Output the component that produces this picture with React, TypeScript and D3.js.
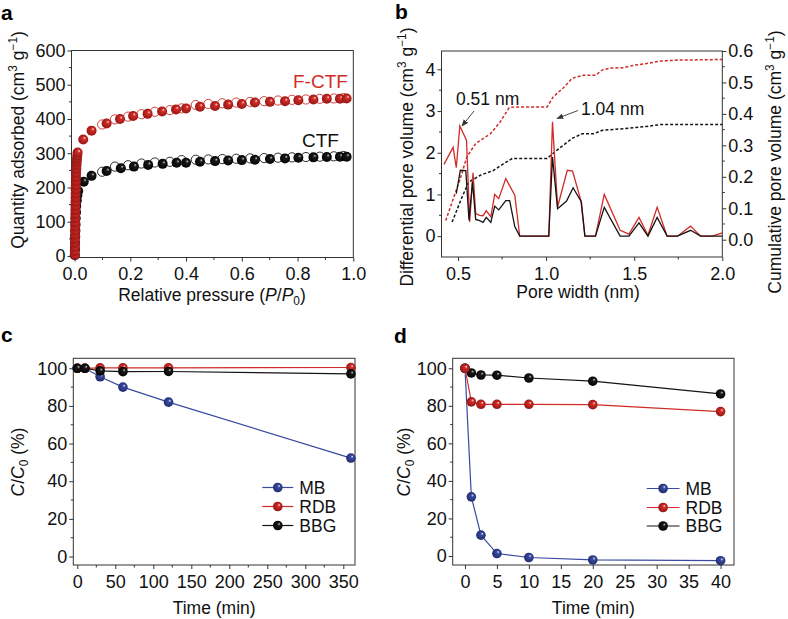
import React, { useEffect, useRef } from 'react';
import * as d3 from 'd3';

const FONT = '"Liberation Sans", Arial, Helvetica, sans-serif';
const FS = 17.5;
const TFS = 18;
const RED = '#d12b27';
const BLUE = '#3a4aa0';
const BLACK = '#141414';
const AXIS = '#333333';

// ---------- Panel a : N2 isotherms ----------
const fctfLowP = [0.0008, 0.001, 0.0012, 0.0014, 0.0016, 0.0018, 0.002, 0.0022, 0.0024, 0.0026, 0.0028, 0.003, 0.0032, 0.0034, 0.0036, 0.0039, 0.0042, 0.0045, 0.0049, 0.0053, 0.0058, 0.0064, 0.007, 0.0078, 0.0087, 0.0098, 0.011];
const fctfLowQ = [2, 14, 26, 38, 50, 62, 74, 86, 98, 110, 122, 134, 146, 158, 170, 182, 194, 206, 218, 230, 242, 254, 265, 275, 284, 293, 302];
const fctfAdsP = [0.031, 0.061, 0.115, 0.163, 0.21, 0.262, 0.314, 0.364, 0.4, 0.45, 0.504, 0.551, 0.6, 0.647, 0.701, 0.755, 0.803, 0.857, 0.905, 0.952, 0.976];
const fctfAdsQ = [340, 366, 387, 400, 409, 415, 422, 428, 431, 436, 438, 442, 444, 448, 450, 452, 455, 457, 459, 459, 460];
const fctfDesP = [0.099, 0.145, 0.192, 0.24, 0.288, 0.342, 0.384, 0.435, 0.48, 0.53, 0.58, 0.63, 0.68, 0.73, 0.78, 0.83, 0.88, 0.93, 0.965];
const fctfDesQ = [384, 399, 407, 414, 421, 426, 431, 441, 444, 446, 448, 450, 452, 454, 456, 457, 459, 460, 461];
const ctfLowP = [0.001, 0.0015, 0.002, 0.0025, 0.003, 0.0035, 0.004, 0.005, 0.006, 0.008, 0.01, 0.013];
const ctfLowQ = [3, 20, 38, 56, 74, 92, 110, 128, 146, 162, 177, 190];
const ctfAdsP = [0.033, 0.061, 0.115, 0.166, 0.213, 0.264, 0.316, 0.366, 0.4, 0.45, 0.504, 0.551, 0.6, 0.647, 0.701, 0.755, 0.803, 0.857, 0.905, 0.952, 0.976];
const ctfAdsQ = [217, 234, 248, 256, 261, 266, 269, 272, 272, 275, 277, 279, 280, 281, 283, 285, 287, 288, 289, 290, 290];
const ctfDesP = [0.099, 0.145, 0.192, 0.24, 0.288, 0.342, 0.384, 0.435, 0.48, 0.53, 0.58, 0.63, 0.68, 0.73, 0.78, 0.83, 0.88, 0.93, 0.965];
const ctfDesQ = [246, 261, 265, 270, 273, 275, 280, 281, 282, 283, 284, 285, 286, 287, 288, 289, 290, 291, 292];
const aXTicks = [0, 0.2, 0.4, 0.6, 0.8, 1.0];
const aYTicks = [0, 100, 200, 300, 400, 500, 600];

// ---------- Panel b : pore size distribution ----------
const fDiffX = [0.42, 0.472, 0.49, 0.51, 0.548, 0.566, 0.585, 0.6, 0.623, 0.642, 0.66, 0.686, 0.708, 0.731, 0.771, 0.822, 0.85, 1.015, 1.036, 1.065, 1.12, 1.15, 1.197, 1.22, 1.28, 1.33, 1.42, 1.47, 1.527, 1.578, 1.63, 1.687, 1.745, 1.82, 1.877, 1.943, 2.0];
const fDiffY = [1.72, 2.13, 1.64, 2.64, 2.3, 0.34, 1.52, 0.54, 0.5, 0.49, 0.61, 0.46, 1.0, 0.9, 1.38, 0.98, 0, 0, 2.74, 0.7, 1.58, 1.56, 0.86, 0, 0, 1.0, 0.14, 0.05, 0.45, 0.02, 0.69, 0, 0, 0.24, 0, 0, 0.08];
const cDiffX = [0.49, 0.513, 0.544, 0.562, 0.582, 0.6, 0.623, 0.642, 0.66, 0.686, 0.708, 0.731, 0.771, 0.793, 0.822, 0.85, 1.015, 1.036, 1.065, 1.116, 1.153, 1.2, 1.22, 1.28, 1.33, 1.42, 1.47, 1.527, 1.578, 1.63, 1.687, 1.745, 1.82, 1.877, 1.943, 2.0];
const cDiffY = [1.02, 1.58, 1.57, 0.38, 1.3, 0.4, 0.37, 0.33, 0.45, 0.33, 0.72, 0.63, 0.85, 0.85, 0.23, 0, 0, 1.9, 0.66, 0.84, 1.16, 0.82, 0, 0, 0.69, 0, 0, 0.32, 0, 0.45, 0, 0, 0.14, 0, 0, 0];
const fCumX = [0.43, 0.51, 0.55, 0.6, 0.684, 0.74, 0.79, 0.82, 1.005, 1.04, 1.1, 1.147, 1.21, 1.28, 1.32, 1.37, 1.44, 1.5, 1.57, 1.65, 1.745, 2.0];
const fCumY = [0.061, 0.19, 0.263, 0.306, 0.337, 0.375, 0.42, 0.422, 0.422, 0.454, 0.484, 0.513, 0.523, 0.523, 0.54, 0.546, 0.547, 0.555, 0.56, 0.568, 0.571, 0.573];
const cCumX = [0.466, 0.523, 0.56, 0.627, 0.7, 0.76, 0.807, 1.005, 1.06, 1.147, 1.205, 1.27, 1.32, 1.44, 1.57, 1.65, 2.0];
const cCumY = [0.056, 0.136, 0.183, 0.205, 0.22, 0.242, 0.258, 0.258, 0.284, 0.322, 0.337, 0.337, 0.348, 0.353, 0.36, 0.366, 0.366];
const bXTicks = [0.5, 1.0, 1.5, 2.0];
const bYLeftTicks = [0, 1, 2, 3, 4];
const bYRightTicks = [0, 0.1, 0.2, 0.3, 0.4, 0.5, 0.6];

// ---------- Panel c ----------
const cTime = [0, 10, 30, 60, 120, 360];
const cMB = [100, 100, 95.5, 90, 82, 52.3];
const cRDB = [100, 100, 100.2, 100.2, 100.2, 100.4];
const cBBG = [100, 100, 98.6, 98.2, 98.3, 97];
const cXTicks = [0, 50, 100, 150, 200, 250, 300, 350];

// ---------- Panel d ----------
const dTime = [0, 1, 2.5, 5, 10, 20, 40];
const dMB = [100, 31.5, 11.1, 1.3, -0.8, -2.1, -2.5];
const dRDB = [100, 82.1, 80.8, 80.8, 80.8, 80.6, 76.9];
const dBBG = [100, 97.5, 96.4, 96.3, 94.8, 93.1, 86.3];
const dXTicks = [0, 5, 10, 15, 20, 25, 30, 35, 40];
const cdYTicks = [0, 20, 40, 60, 80, 100];

type Part = [string, string?];
type Sel = d3.Selection<any, any, any, any>;

function richText(parent: Sel, parts: Part[], fs: number) {
  const t = parent.append('text').attr('font-family', FONT).attr('font-size', fs).attr('fill', '#111');
  let off = 0;
  for (const [s, k] of parts) {
    const target = k === 'sup' ? -0.4 * fs : k === 'sub' ? 0.25 * fs : 0;
    const ts = t.append('tspan').text(s).attr('dy', target - off);
    if (k === 'sup' || k === 'sub') ts.attr('font-size', fs * 0.68);
    if (k === 'it') ts.attr('font-style', 'italic');
    off = target;
  }
  return t;
}

function drawAxis(g: Sel, scale: any, orient: string, pos: number, major: number[], minor: number[], fmt: (v: any) => string) {
  const gen = orient === 'left' ? d3.axisLeft(scale) : orient === 'right' ? d3.axisRight(scale) : d3.axisBottom(scale);
  gen.tickValues(major).tickSizeInner(4).tickSizeOuter(0).tickPadding(orient === 'bottom' ? 6 : 2).tickFormat(fmt as any);
  const tr = orient === 'bottom' ? `translate(0,${pos})` : `translate(${pos},0)`;
  const a = g.append('g').attr('transform', tr).call(gen as any);
  a.select('.domain').remove();
  a.selectAll('line').attr('stroke', AXIS).attr('stroke-width', 1);
  a.selectAll('text').attr('font-size', TFS).attr('font-family', FONT).attr('fill', '#111');
  const mg = g.append('g').attr('transform', tr);
  mg.selectAll('line').data(minor).join('line')
    .attr('x1', (v: number) => (orient === 'bottom' ? scale(v) : 0))
    .attr('x2', (v: number) => (orient === 'bottom' ? scale(v) : orient === 'left' ? -2.5 : 2.5))
    .attr('y1', (v: number) => (orient === 'bottom' ? 0 : scale(v)))
    .attr('y2', (v: number) => (orient === 'bottom' ? 2.5 : scale(v)))
    .attr('stroke', AXIS).attr('stroke-width', 1);
}

function frame(g: Sel, x: any, y: any) {
  const [x0, x1] = x.range();
  const [y0, y1] = y.range();
  g.append('rect').attr('x', x0).attr('y', y1).attr('width', x1 - x0).attr('height', y0 - y1)
    .attr('fill', 'none').attr('stroke', AXIS).attr('stroke-width', 1);
}

function addGradients(defs: Sel) {
  const specs: [string, string, string, string][] = [
    ['gRed', '#ffd9d6', RED, '#8e1512'],
    ['gBlue', '#dfe4ff', BLUE, '#1e2866'],
    ['gBlack', '#c8c8c8', '#1a1a1a', '#000000'],
  ];
  specs.forEach(([id, hi, mid, lo]) => {
    const rg = defs.append('radialGradient').attr('id', id).attr('cx', '50%').attr('cy', '50%').attr('r', '55%').attr('fx', '66%').attr('fy', '32%');
    rg.append('stop').attr('offset', '0%').attr('stop-color', hi);
    rg.append('stop').attr('offset', '28%').attr('stop-color', mid);
    rg.append('stop').attr('offset', '100%').attr('stop-color', lo);
  });
  const m = defs.append('marker').attr('id', 'arrow').attr('viewBox', '0 0 10 10').attr('refX', 9).attr('refY', 5)
    .attr('markerWidth', 7).attr('markerHeight', 7).attr('orient', 'auto-start-reverse').attr('markerUnits', 'userSpaceOnUse');
  m.append('path').attr('d', 'M0,1 L10,5 L0,9 Z').attr('fill', '#333');
}

function spheres(g: Sel, xs: number[], ys: number[], x: any, y: any, grad: string, r: number) {
  g.append('g').selectAll('circle').data(xs.map((v, i) => [v, ys[i]])).join('circle')
    .attr('cx', (d: number[]) => x(d[0])).attr('cy', (d: number[]) => y(d[1])).attr('r', r)
    .attr('fill', `url(#${grad})`);
}

function openCircles(g: Sel, xs: number[], ys: number[], x: any, y: any, color: string, r: number) {
  g.append('g').selectAll('circle').data(xs.map((v, i) => [v, ys[i]])).join('circle')
    .attr('cx', (d: number[]) => x(d[0])).attr('cy', (d: number[]) => y(d[1])).attr('r', r)
    .attr('fill', '#fff').attr('stroke', color).attr('stroke-width', 0.9);
}

function drawA(svg: Sel) {
  const g = svg.append('g');
  const x = d3.scaleLinear().domain([-0.011, 1.0]).range([71.5, 353.3]);
  const y = d3.scaleLinear().domain([-4.4, 600]).range([257.5, 50.5]);
  frame(g, x, y);
  openCircles(g, fctfDesP, fctfDesQ, x, y, RED, 4.6);
  openCircles(g, ctfDesP, ctfDesQ, x, y, BLACK, 4.6);
  spheres(g, ctfLowP, ctfLowQ, x, y, 'gBlack', 5);
  spheres(g, ctfAdsP, ctfAdsQ, x, y, 'gBlack', 5);
  spheres(g, fctfLowP, fctfLowQ, x, y, 'gRed', 5);
  spheres(g, fctfAdsP, fctfAdsQ, x, y, 'gRed', 5);
  drawAxis(g, x, 'bottom', 257.5, aXTicks, [0.1, 0.3, 0.5, 0.7, 0.9], d3.format('.1f'));
  drawAxis(g, y, 'left', 71.5, aYTicks, [50, 150, 250, 350, 450, 550], d3.format('d'));
  g.append('text').attr('x', 293).attr('y', 88).attr('font-family', FONT).attr('font-size', 19).attr('fill', RED).text('F-CTF');
  g.append('text').attr('x', 302).attr('y', 147).attr('font-family', FONT).attr('font-size', 19).attr('fill', '#111').text('CTF');
  const xt = richText(g, [['Relative pressure ('], ['P', 'it'], ['/'], ['P', 'it'], ['0', 'sub'], [')']], FS);
  xt.attr('x', 212).attr('y', 301).attr('text-anchor', 'middle');
  const yt = richText(g, [['Quantity adsorbed (cm'], ['3', 'sup'], [' g'], ['\u22121', 'sup'], [')']], FS);
  yt.attr('text-anchor', 'middle').attr('transform', 'translate(24,140) rotate(-90)');
  g.append('text').attr('x', 1).attr('y', 20).attr('font-family', FONT).attr('font-size', 21).attr('font-weight', 'bold').text('a');
}

function drawB(svg: Sel) {
  const g = svg.append('g');
  const x = d3.scaleLinear().domain([0.406, 2.0]).range([441.5, 722.3]);
  const yL = d3.scaleLinear().domain([-0.5, 4.44]).range([257, 51]);
  const yR = d3.scaleLinear().domain([-0.055, 0.6]).range([257, 51]);
  frame(g, x, yL);
  const lineL = (xs: number[]) => d3.line<number>().x((_, i) => x(xs[i])).y((v) => yL(v));
  const lineR = (xs: number[]) => d3.line<number>().x((_, i) => x(xs[i])).y((v) => yR(v));
  g.append('path').attr('d', lineR(fCumX)(fCumY)).attr('fill', 'none').attr('stroke', RED).attr('stroke-width', 1.5).attr('stroke-dasharray', '3,2');
  g.append('path').attr('d', lineR(cCumX)(cCumY)).attr('fill', 'none').attr('stroke', BLACK).attr('stroke-width', 1.5).attr('stroke-dasharray', '3,2');
  g.append('path').attr('d', lineL(fDiffX)(fDiffY)).attr('fill', 'none').attr('stroke', RED).attr('stroke-width', 1.3).attr('stroke-linejoin', 'miter');
  g.append('path').attr('d', lineL(cDiffX)(cDiffY)).attr('fill', 'none').attr('stroke', BLACK).attr('stroke-width', 1.3);
  drawAxis(g, x, 'bottom', 257, bXTicks, [0.75, 1.25, 1.75], d3.format('.1f'));
  drawAxis(g, yL, 'left', 441.5, bYLeftTicks, [0.5, 1.5, 2.5, 3.5], d3.format('d'));
  drawAxis(g, yR, 'right', 722.3, bYRightTicks, [0.05, 0.15, 0.25, 0.35, 0.45, 0.55], d3.format('.1f'));
  g.append('text').attr('x', 456).attr('y', 105).attr('font-family', FONT).attr('font-size', FS).attr('fill', '#111').text('0.51 nm');
  g.append('text').attr('x', 581).attr('y', 115).attr('font-family', FONT).attr('font-size', FS).attr('fill', '#111').text('1.04 nm');
  g.append('line').attr('x1', 474).attr('y1', 111).attr('x2', 462).attr('y2', 126).attr('stroke', '#333').attr('stroke-width', 0.9).attr('marker-end', 'url(#arrow)');
  g.append('line').attr('x1', 578).attr('y1', 110.5).attr('x2', 557).attr('y2', 118.5).attr('stroke', '#333').attr('stroke-width', 0.9).attr('marker-end', 'url(#arrow)');
  g.append('text').attr('x', 578).attr('y', 298).attr('text-anchor', 'middle').attr('font-family', FONT).attr('font-size', FS).attr('fill', '#111').text('Pore width (nm)');
  const yt = richText(g, [['Differential pore volume (cm'], ['3', 'sup'], [' g'], ['\u22121', 'sup'], [')']], FS);
  yt.attr('text-anchor', 'middle').attr('transform', 'translate(413,157) rotate(-90)');
  const yt2 = richText(g, [['Cumulative pore volume (cm'], ['3', 'sup'], [' g'], ['\u22121', 'sup'], [')']], FS);
  yt2.attr('text-anchor', 'middle').attr('transform', 'translate(781,162) rotate(-90)');
  g.append('text').attr('x', 395).attr('y', 19).attr('font-family', FONT).attr('font-size', 21).attr('font-weight', 'bold').text('b');
}

function drawKinetics(svg: Sel, opts: any) {
  const g = svg.append('g');
  const x = d3.scaleLinear().domain(opts.xd).range(opts.xr);
  const y = d3.scaleLinear().domain(opts.yd).range([565, 358.3]);
  frame(g, x, y);
  const ln = d3.line<number>().x((_, i) => x(opts.t[i])).y((v) => y(v));
  opts.series.forEach((s: any) => {
    g.append('path').attr('d', ln(s.v)).attr('fill', 'none').attr('stroke', s.color).attr('stroke-width', 1.2);
    spheres(g, opts.t, s.v, x, y, s.grad, 4.8);
  });
  drawAxis(g, x, 'bottom', 565, opts.xt, opts.xm, d3.format('d'));
  drawAxis(g, y, 'left', opts.xr[0], cdYTicks, [10, 30, 50, 70, 90], d3.format('d'));
  const lg = g.append('g');
  opts.legend.forEach((s: any, i: number) => {
    const yy = opts.ly[i];
    lg.append('line').attr('x1', opts.lx[0]).attr('x2', opts.lx[1]).attr('y1', yy).attr('y2', yy).attr('stroke', s.color).attr('stroke-width', 1.2);
    lg.append('circle').attr('cx', (opts.lx[0] + opts.lx[1]) / 2).attr('cy', yy).attr('r', 4.8).attr('fill', `url(#${s.grad})`);
    lg.append('text').attr('x', opts.lx[1] + 6).attr('y', yy + 6.3).attr('font-family', FONT).attr('font-size', FS).attr('fill', '#111').text(s.name);
  });
  g.append('text').attr('x', (opts.xr[0] + opts.xr[1]) / 2).attr('y', 614).attr('text-anchor', 'middle').attr('font-family', FONT).attr('font-size', FS).attr('fill', '#111').text('Time (min)');
  const yt = richText(g, [['C', 'it'], ['/'], ['C', 'it'], ['0', 'sub'], [' (%)']], FS);
  yt.attr('text-anchor', 'middle').attr('transform', `translate(${opts.ytx},462) rotate(-90)`);
  g.append('text').attr('x', opts.lab[0]).attr('y', opts.lab[1]).attr('font-family', FONT).attr('font-size', 21).attr('font-weight', 'bold').text(opts.label);
}

export default function App() {
  const ref = useRef<SVGSVGElement>(null);
  useEffect(() => {
    const svg = d3.select(ref.current);
    svg.selectAll('*').remove();
    const defs = svg.append('defs');
    addGradients(defs);
    drawA(svg);
    drawB(svg);
    const mb = { name: 'MB', color: BLUE, grad: 'gBlue' };
    const rdb = { name: 'RDB', color: RED, grad: 'gRed' };
    const bbg = { name: 'BBG', color: BLACK, grad: 'gBlack' };
    drawKinetics(svg, {
      t: cTime, xd: [-5.3, 365.4], xr: [73.3, 355], yd: [-4.5, 105.3],
      xt: cXTicks, xm: [25, 75, 125, 175, 225, 275, 325],
      series: [{ ...mb, v: cMB }, { ...rdb, v: cRDB }, { ...bbg, v: cBBG }],
      legend: [mb, rdb, bbg], lx: [262.3, 293.3], ly: [487.5, 506.5, 525.5],
      ytx: 24, lab: [1, 342], label: 'c',
    });
    drawKinetics(svg, {
      t: dTime, xd: [-1.92, 42.1], xr: [452.7, 734], yd: [-4.8, 105.3],
      xt: dXTicks, xm: [],
      series: [{ ...mb, v: dMB }, { ...bbg, v: dBBG }, { ...rdb, v: dRDB }],
      legend: [mb, rdb, bbg], lx: [646.7, 679.5], ly: [488.5, 507.5, 526],
      ytx: 410, lab: [394, 343], label: 'd',
    });
  }, []);
  return (
    <svg ref={ref} width={788} height={619} style={{ position: 'absolute', left: 0, top: 0, background: '#fff' }} />
  );
}
